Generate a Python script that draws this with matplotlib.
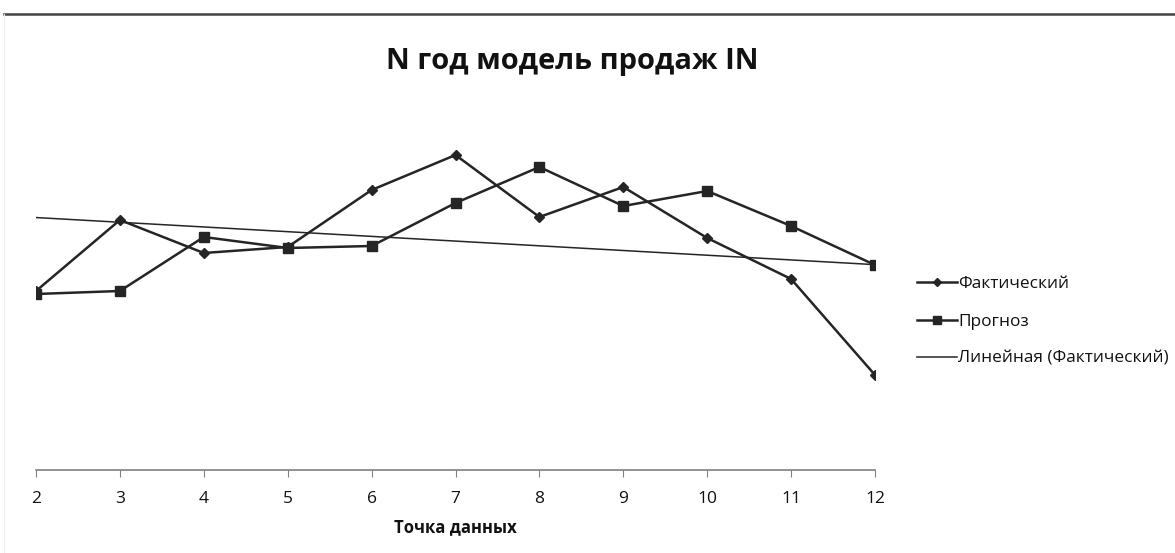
import numpy as np
import matplotlib
matplotlib.use("Agg")
import matplotlib.pyplot as plt
from matplotlib.lines import Line2D

plt.rcParams['font.family'] = ['Open Sans', 'DejaVu Sans']

# Data
points = [2, 3, 4, 5, 6, 7, 8, 9, 10, 11, 12]
actual = [179, 250, 217, 223, 280, 315, 253, 283, 232, 191, 95]
forecast = [176, 179, 233, 222, 224, 267, 303, 264, 279, 244, 205]
tick_labels = [str(p) for p in points]
title = "N год модель продаж IN"
xlabel = "Точка данных"
labels = ["Фактический", "Прогноз", "Линейная (Фактический)"]

W, H = 1175, 553
fig = plt.figure(figsize=(W / 100, H / 100), dpi=100)
ax = fig.add_axes([36 / W, 83 / H, (875 - 36) / W, (470 - 110) / H])

col = '#252525'
ax.plot(points, actual, color=col, lw=1.8, marker='D', markersize=5, label=labels[0], zorder=3)
ax.plot(points, forecast, color=col, lw=1.8, marker='s', markersize=6.5, label=labels[1], zorder=3)
coef = np.polyfit(points, actual, 1)
trend = np.polyval(coef, points)
ax.plot(points, trend, color=col, lw=1.1, label=labels[2], zorder=2)

ax.set_xlim(2, 12)
ax.set_ylim(0, 360)
ax.set_xticks(points)
ax.set_xticklabels(tick_labels, fontsize=12.5)
ax.set_yticks([])
for s in ['left', 'top', 'right']:
    ax.spines[s].set_visible(False)
ax.spines['bottom'].set_color('#808080')
ax.spines['bottom'].set_linewidth(1.2)
ax.tick_params(axis='x', direction='out', length=5, color='#808080', pad=10, labelcolor='#111111')
ax.set_xlabel(xlabel, fontsize=12, fontweight='bold', labelpad=8, color='#111111')

fig.text(572 / W, 1 - 61 / H, title, fontsize=21, fontweight='bold', ha='center', va='center', color='#111111')

# top border line
fig.add_artist(Line2D([4 / W, 1.0], [1 - 14 / H, 1 - 14 / H], color='#444444', lw=1.8, transform=fig.transFigure))
fig.add_artist(Line2D([4 / W, 4 / W], [0, 1 - 14 / H], color='#eeeeee', lw=0.8, transform=fig.transFigure))

leg = fig.legend(loc='center left', bbox_to_anchor=(917 / W, 1 - 321.5 / H), frameon=False,
                 fontsize=12.4, handlelength=2.3, handletextpad=0.1, labelspacing=1.22,
                 borderaxespad=0, borderpad=0, markerscale=0.8)
for t in leg.get_texts():
    t.set_color('#111111')

fig.savefig('out.png', dpi=100, facecolor='white')
